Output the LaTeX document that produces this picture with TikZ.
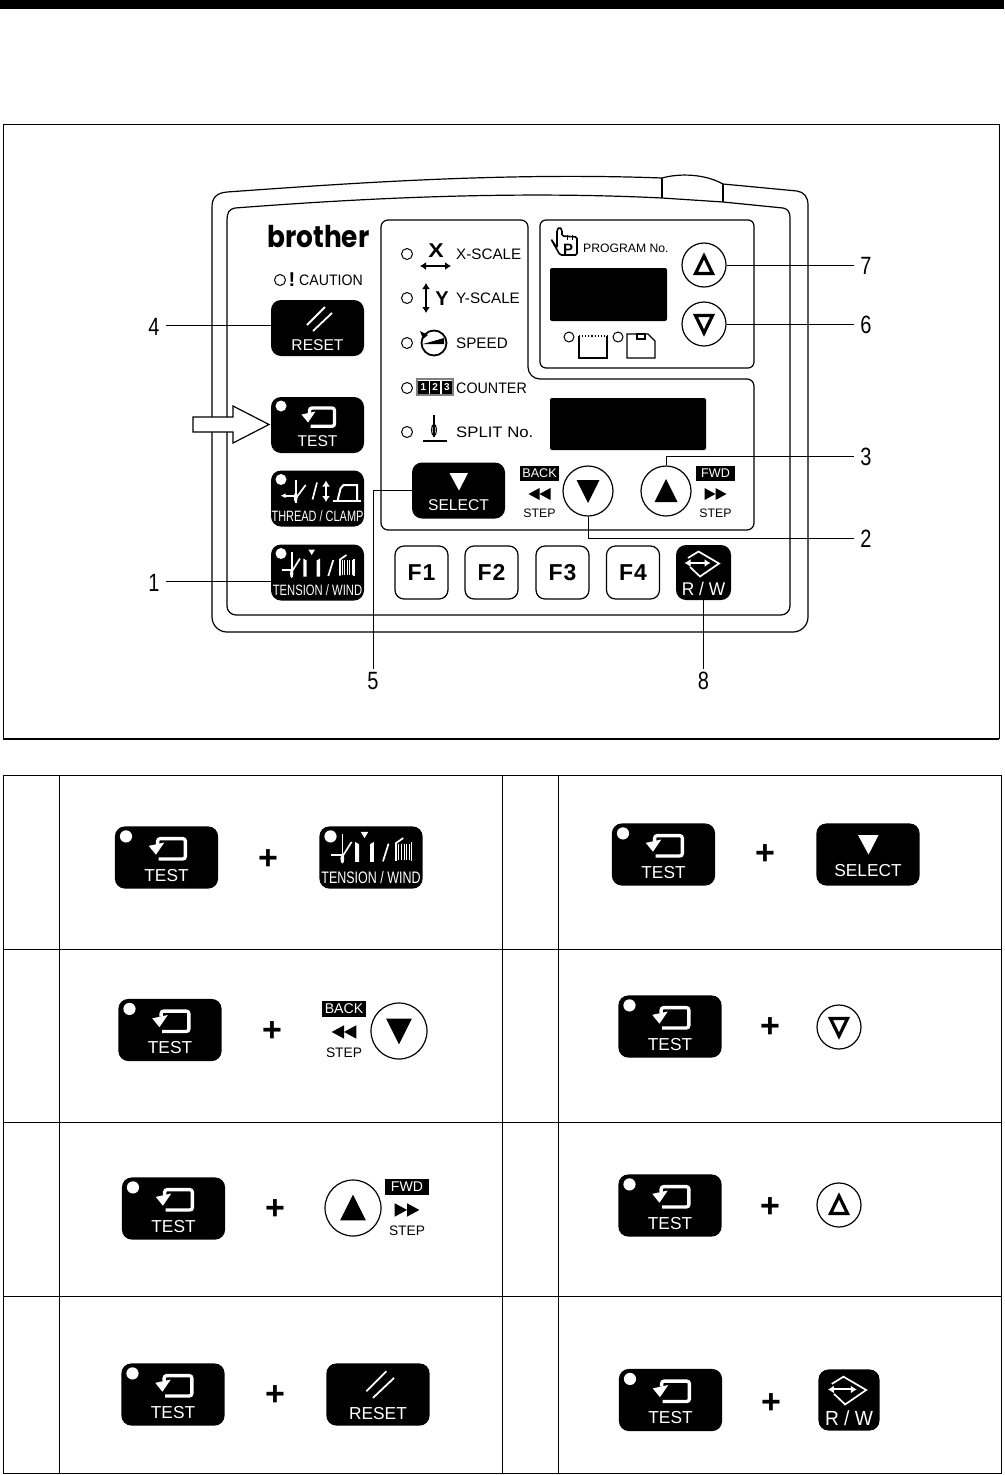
\documentclass[tikz,border=0pt]{standalone}
\usepackage{fontspec}
\setmainfont{Liberation Sans}
\newfontfamily\logofont{Poppins}
\usetikzlibrary{arrows.meta,calc}
\newcommand{\fsz}[1]{\fontsize{#1}{#1}\selectfont}
\tikzset{
  keybox/.style={fill=black,rounded corners=10,minimum width=93,minimum height=56,inner sep=0,transform shape},
  keytext/.style={text=white,font=\fsz{15.6},inner sep=0,transform shape},
  keylamp/.style={circle,fill=white,minimum size=11,inner sep=0,transform shape},
  keyicon/.style={white,line width=1.7},
  roundbtn/.style={circle,draw=black,line width=1.2,fill=white,inner sep=0,transform shape},
  fkey/.style={draw=black,line width=1.2,rounded corners=9,fill=white,minimum width=53,minimum height=53,inner sep=0,font=\fsz{23}\bfseries},
  lamp/.style={circle,draw=black,line width=1,fill=white,minimum size=11,inner sep=0},
  panellabel/.style={font=\fsz{15.2},inner sep=0,transform shape},
  panelline/.style={line width=1.2,draw=black},
  tableline/.style={line width=1,draw=black},
  leader/.style={line width=.9,draw=black},
  refnum/.style={font=\fsz{25},inner xsep=8,inner ysep=3,xscale=.8,transform shape},
  plusmark/.style={font=\fsz{34}\bfseries,inner sep=0,yshift=-1.5},
  bigtip/.style={{Latex[length=6,width=8]}-{Latex[length=6,width=8]}},
}
\newcommand{\testkey}[4]{
\begin{scope}[shift={(#2,#3)},scale=#4]
  \node[keybox] (#1) at (0,0) {};
  \node[keylamp] (#1lamp) at (-36.5,-19) {};
  \draw[keyicon,line width=3.3,rounded corners=2.5] (-8,-12) -- (-8,-17) -- (17,-17) -- (17,1.3) -- (-7,1.3);
  \fill[white] (-16,-10.5) -- (-2,-13.5) -- (-9.5,-2.5) -- cycle;
  \node[keytext] (#1text) at (0,16) {TEST};
\end{scope}}
\newcommand{\resetkey}[4]{
\begin{scope}[shift={(#2,#3)},scale=#4]
  \node[keybox] (#1) at (0,0) {};
  \draw[keyicon,line width=1.8] (7.5,-21) -- (-10.5,-3);
  \draw[keyicon,line width=1.8] (14.5,-15) -- (-4.5,3);
  \node[keytext] (#1text) at (0,17) {RESET};
\end{scope}}
\newcommand{\selectkey}[4]{
\begin{scope}[shift={(#2,#3)},scale=#4]
  \node[keybox] (#1) at (0,0) {};
  \fill[white] (-9,-17.5) -- (9.5,-17.5) -- (0.5,0) -- cycle;
  \node[keytext] (#1text) at (0,14.5) {SELECT};
\end{scope}}
\newcommand{\threadkey}[4]{
\begin{scope}[shift={(#2,#3)},scale=#4]
  \node[keybox] (#1) at (0,0) {};
  \node[keylamp] (#1lamp) at (-36.5,-19) {};
  \draw[keyicon] (-21.8,-18.5) -- (-21.8,4);
  \fill[white] (-21.8,-1) ellipse (1.9 and 5);
  \draw[keyicon,-{Latex[length=5,width=5]}] (-21,-2.8) -- (-37,-2.8);
  \draw[keyicon] (-21.8,0) -- (-11.8,-13.5);
  \draw[keyicon] (-5,1) -- (-0.5,-16);
  \draw[keyicon,line width=2.6,bigtip] (8.5,-18) -- (8.5,3.5);
  \draw[keyicon] (15,2.5) -- (43.5,2.5);
  \draw[keyicon,line width=2] (20,2.5) -- (23,-10) -- (26,-13.5) -- (39.5,-13.5) -- (39.5,2.5);
  \node[keytext,font=\fsz{15},xscale=.73] (#1text) at (0,18) {THREAD / CLAMP};
\end{scope}}
\newcommand{\tenskey}[4]{
\begin{scope}[shift={(#2,#3)},scale=#4]
  \node[keybox] (#1) at (0,0) {};
  \node[keylamp] (#1lamp) at (-36.5,-19) {};
  \draw[keyicon] (-25.8,-21) -- (-25.8,4);
  \fill[white] (-25.8,1) ellipse (1.7 and 4.5);
  \draw[keyicon] (-36,-2.5) -- (-26.5,-2.5);
  \draw[keyicon] (-25.8,-.8) -- (-17.5,-14);
  \fill[white] (-14.2,-14) -- (-10.8,-12) -- (-10.8,4) -- (-14.2,4) -- cycle;
  \fill[white] (2.5,-14) -- (-.8,-12) -- (-.8,4) -- (2.5,4) -- cycle;
  \fill[white] (-9.2,-23) -- (-2.5,-23) -- (-5.8,-17.5) -- cycle;
  \draw[keyicon] (10.8,3.5) -- (15.8,-12.5);
  \draw[keyicon] (22.5,3) -- (22.5,-13) -- (29,-17.5);
  \foreach \wx in {24.8,27.3,29.8,32.3,34.8}{
    \draw[white,line width=.9] (\wx,-12.5) -- (\wx,2.5);
  }
  \draw[keyicon] (36.5,-14) -- (36.5,3);
  \node[keytext,font=\fsz{15},xscale=.75] (#1text) at (0,18) {TENSION / WIND};
\end{scope}}
\newcommand{\rwkey}[4]{
\begin{scope}[shift={(#2,#3)},scale=#4]
  \node[keybox,minimum width=55,minimum height=55] (#1) at (0,0) {};
  \draw[keyicon,line width=2,bigtip] (-19,-9.5) -- (7,-9.5);
  \draw[keyicon] (-15.5,-14.5) -- (-5,-21) -- (15.5,-9) -- (-3.5,4) -- (-13.5,-5.5);
  \node[keytext,font=\fsz{18.4},xscale=.94] (#1text) at (0,16) {R / W};
\end{scope}}
\newcommand{\stepkey}[5]{
\begin{scope}[shift={(#2,#3)},scale=#4]
  \node[roundbtn,minimum size=50] (#1) at (0,0) {};
  \fill ({-11.5},{#5*11}) -- ({11.5},{#5*11}) -- (0,{#5*-12}) -- cycle;
\end{scope}}
\newcommand{\progkey}[4]{
\begin{scope}[shift={(#2,#3)}]
  \node[roundbtn,minimum size=44] (#1) at (0,0) {};
  \draw[line width=3.2] ({-8.5},{#4*8.5}) -- ({8.5},{#4*8.5}) -- (0,{#4*-9}) -- cycle;
\end{scope}}
\newcommand{\stepmark}[6]{
\begin{scope}[shift={(#2,#3)},scale=#4]
  \node[fill=black,text=white,font=\fsz{12.6},minimum width=39,minimum height=15,inner sep=0,transform shape] (#1) at (0,0) {#5};
  \fill ({#6*11},20.5) -- (0,14.5) -- (0,26.5) -- cycle;
  \fill (0,20.5) -- ({#6*-11},14.5) -- ({#6*-11},26.5) -- cycle;
  \node[font=\fsz{12.3},inner sep=0,transform shape] (#1step) at (0,39.5) {STEP};
\end{scope}}

\begin{document}
\begin{tikzpicture}[x=1pt,y=-1pt]
\useasboundingbox (0,0) rectangle (1004,1475);
\fill (0,0) rectangle (1004,9);
\draw[line width=1] (3,739) -- (3,124) -- (999,124) -- (999,739);
\draw[line width=2] (3,739) -- (999,739);
% housing
\draw[panelline] (212,207) .. controls (212,197) and (217,193) .. (227,192) .. controls (340,184) and (500,172) .. (662,178) .. controls (680,173) and (705,174) .. (723,184) -- (797,191) .. controls (804,192) and (808,197) .. (808,205) [rounded corners=15] -- (808,632) -- (212,632) -- (212,207);
\draw[panelline] (227,220) .. controls (227,213) and (229,209) .. (235,208) .. controls (340,200) and (500,190) .. (662,198) -- (723,202) -- (783,208) .. controls (788,209) and (790,212) .. (790,218) [rounded corners=9] -- (790,615) -- (227,615) -- (227,220);
\draw[panelline] (662,178) -- (662,198);
\draw[panelline] (723,184) -- (723,202);
% sub panels
\draw[panelline,rounded corners=7] (381,220) -- (528,220) -- (528,355) [rounded corners=12] -- (528,379) [rounded corners=7] -- (754,379) -- (754,530) -- (381,530) -- cycle;
\draw[panelline,rounded corners=6] (540,220) rectangle (754,368);
\fill[rounded corners=2] (550,268) rectangle (667,321);
\fill[rounded corners=2] (550,398) rectangle (706,450);
\node[font=\logofont\fsz{30}\bfseries,inner sep=0,xscale=.88,transform shape] (logo) at (318.5,237) {brother};
% lamps with their labels
\foreach \ly/\lt/\ls [count=\li] in {254/X-SCALE/1,298/Y-SCALE/1,343/SPEED/1,388/COUNTER/.94,432/SPLIT No./1.1}{
  \node[lamp] (lamp\li) at (407,\ly) {};
  \node[panellabel,anchor=west,xscale=\ls] (label\li) at (456,\ly+.5) {\lt};
}
\node[lamp] (cautionlamp) at (280,280) {};
\node[font=\fsz{20}\bfseries,inner sep=0] (bang) at (292,280) {!};
\node[font=\fsz{15.2},inner sep=0,anchor=west,xscale=.93,transform shape] (caution) at (299,280) {CAUTION};
% scale icons
\node[font=\fsz{20}\bfseries,inner sep=0,xscale=1.15,transform shape] (xmark) at (436,251) {X};
\draw[line width=1.9,bigtip] (420,266) -- (451,266);
\node[font=\fsz{20}\bfseries,inner sep=0] (ymark) at (442,299) {Y};
\draw[line width=1.9,bigtip] (426,283) -- (426,313);
\node[circle,draw,line width=1.8,minimum size=25,inner sep=0] (gauge) at (434,343) {};
\fill (423,344) -- (444,338) -- (444,344) -- cycle;
\fill (420,331) -- (428,335) -- (423,339) -- cycle;
\draw[line width=1.1,gray] (417,379) rectangle (453,395);
\foreach \cd [count=\ci from 0] in {1,2,3}{
  \node[fill=black,text=white,font=\fsz{10}\bfseries,minimum width=10.5,minimum height=13,inner sep=0] (count\cd) at (423.3+\ci*11.8,387) {\cd};
}
\draw[line width=1.1] (434,415) -- (434,437);
\draw[line width=1.1] (434,430) ellipse (2.3 and 6);
\draw[line width=1.1] (423,441) -- (447,441);
% program area
\draw[line width=1.6,rounded corners=1.5] (551,239) -- (557,248) -- (557,230) -- (559.5,227) -- (562,230) -- (562,236) -- (577,237) -- (577,255) -- (560,255) -- cycle;
\foreach \tx in {567,572}{
  \draw[line width=1] (\tx,235) -- (\tx,240);
}
\node[font=\fsz{15}\bfseries,inner sep=0] (pmark) at (568,249) {P};
\node[font=\fsz{12.2},inner sep=0,anchor=west] (progname) at (583,248) {PROGRAM No.};
\node[lamp,minimum size=10] (progled1) at (569,337) {};
\node[lamp,minimum size=10] (progled2) at (618,337) {};
\draw[line width=1.1] (579,336) -- (579,358) -- (607,358) -- (607,336);
\draw[line width=1.1,dotted] (579,336) -- (607,336);
\draw[line width=1.1] (627,334) -- (627,358) -- (655,358) -- (655,341) -- (648,334) -- cycle;
\draw[line width=1.1] (637,334) rectangle (645,339);
% keys on the panel
\resetkey{resetk}{317.5}{328}{1}
\testkey{testk}{317.5}{425}{1}
\threadkey{threadk}{317.5}{498.5}{1}
\tenskey{tensk}{317.5}{572.5}{1}
\selectkey{selectk}{458.5}{490.5}{1}
\rwkey{rwk}{703.5}{572.5}{1}
\stepkey{backk}{588}{491}{1}{-1}
\stepkey{fwdk}{666}{491}{1}{1}
\stepmark{backm}{539.5}{473.5}{1}{BACK}{-1}
\stepmark{fwdm}{715.5}{473.5}{1}{FWD}{1}
\progkey{progup}{704}{265}{1}
\progkey{progdn}{704}{324}{-1}
\foreach \fn/\fx in {1/421.5,2/491.5,3/562.5,4/633}{
  \node[fkey] (f\fn) at (\fx,572.5) {F\kern1pt\fn};
}
% pointer arrow
\draw[line width=1.2,fill=white] (193,417) -- (233,417) -- (233,406) -- (269,424.5) -- (233,443) -- (233,432) -- (193,432) -- cycle;
% reference numbers
\foreach \nn/\nx/\ny in {1/154/582,4/154/326,7/866/265,6/866/324,3/866/456,2/866/538,5/373/680,8/703.5/680}{
  \node[refnum,yshift=-1] (n\nn) at (\nx,\ny) {\nn};
}
\coordinate (line1) at (154,581);
\coordinate (line4) at (154,325);
\draw[leader] (n1.east |- line1) -- (line1 -| tensk.west);
\draw[leader] (n4.east |- line4) -- (line4 -| resetk.west);
\draw[leader] (progup.east) -- (progup.east -| n7.west);
\draw[leader] (progdn.east) -- (progdn.east -| n6.west);
\draw[leader] (fwdk.north) |- ([yshift=1]n3.west);
\draw[leader] (backk.south) |- ([yshift=1]n2.west);
\draw[leader] (selectk.west) -| (n5.north);
\draw[leader] (rwk.south) -- (n8.north);
% table
\draw[tableline] (3,775) rectangle (1001,1473);
\foreach \cx in {59,502,558}{
  \draw[tableline] (\cx,775) -- (\cx,1473);
}
\foreach \ry in {949,1122,1296}{
  \draw[tableline] (3,\ry) -- (1001,\ry);
}
\foreach \tx/\ty [count=\ti] in {166.5/857.5,170/1030,173.5/1208.5,173/1394.5,663.5/854.5,670/1026.5,670/1205.5,670.5/1400}{
  \testkey{tk\ti}{\tx}{\ty}{1.11}
}
\foreach \px/\py [count=\pi] in {268/858,272/1030,275/1208,275/1394,765/853,770/1026,770/1206,771/1402}{
  \node[plusmark] (plus\pi) at (\px,\py) {+};
}
\tenskey{tabtens}{371}{857.5}{1.11}
\selectkey{tabsel}{868}{854.5}{1.11}
\stepmark{tabbackm}{344}{1009}{1.12}{BACK}{-1}
\stepkey{tabback}{399}{1031}{1.12}{-1}
\progkey{tabdn}{839}{1027}{-1}
\stepkey{tabfwd}{353}{1208}{1.12}{1}
\stepmark{tabfwdm}{407}{1187}{1.12}{FWD}{1}
\progkey{tabup}{839}{1205}{1}
\resetkey{tabreset}{378}{1394.5}{1.11}
\rwkey{tabrw}{849}{1400}{1.11}
\end{tikzpicture}
\end{document}
